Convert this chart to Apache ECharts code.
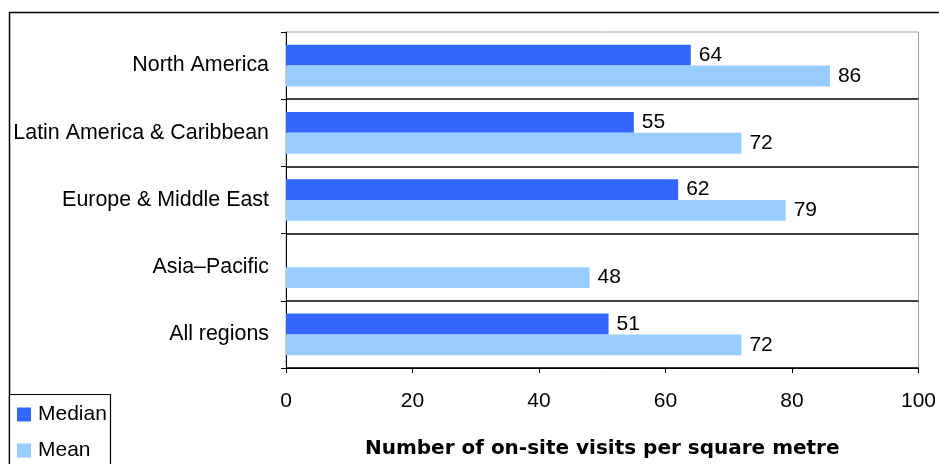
<!DOCTYPE html>
<html><head><meta charset="utf-8">
<script src="https://cdn.jsdelivr.net/npm/echarts@6/dist/echarts.min.js"></script>
<style>html,body{margin:0;padding:0;background:#fff}#c{width:939px;height:464px}</style>
</head><body><div id="c"></div>
<script>
const categories = ["North America", "Latin America & Caribbean", "Europe & Middle East", "Asia–Pacific", "All regions"];
const medianValues = [64, 55, 62, null, 51];
const meanValues = [86, 72, 79, 48, 72];
const xTicks = [0, 20, 40, 60, 80, 100];
const FONT = "'Liberation Sans', Arial, sans-serif";
const chart = echarts.init(document.getElementById('c'), null, {renderer: 'canvas'});
const lbl = {show: true, position: 'right', distance: 8, color: '#000', fontSize: 21, fontFamily: FONT};
chart.setOption({
  animation: false,
  backgroundColor: '#fff',
  grid: {left: 286, right: 17, top: 32, bottom: 94, show: true, borderColor: '#a0a0a0', borderWidth: 1},
  legend: {
    orient: 'vertical', left: 17, top: 404, padding: 0, itemWidth: 14, itemHeight: 14, itemGap: 15,
    icon: 'rect', textStyle: {fontSize: 21, fontFamily: FONT, color: '#000', padding: [0, 0, 0, 2]},
    data: ['Median', 'Mean']
  },
  xAxis: {
    type: 'value', min: xTicks[0], max: xTicks[xTicks.length - 1], interval: 20,
    axisLine: {show: true, lineStyle: {color: '#000'}},
    axisTick: {show: true, inside: false, length: 5, lineStyle: {color: '#000'}},
    axisLabel: {color: '#000', fontSize: 21, fontFamily: FONT, margin: 23},
    splitLine: {show: false},
    name: 'Number of on-site visits per square metre', nameLocation: 'middle', nameGap: 71,
    nameTextStyle: {color: '#000', fontSize: 20, fontWeight: 'bold', fontFamily: "'DejaVu Sans', sans-serif"}
  },
  yAxis: {
    type: 'category', data: categories, inverse: true,
    axisLine: {show: true, lineStyle: {color: '#000'}},
    axisTick: {show: true, inside: false, length: 5, lineStyle: {color: '#000'}},
    axisLabel: {color: '#000', fontSize: 21.4, fontFamily: FONT, margin: 17},
    splitLine: {show: true, lineStyle: {color: '#000', width: 1.5}, interval: function (i) { return i !== 0; }}
  },
  series: [
    {name: 'Median', type: 'bar', data: medianValues, barGap: '0%', barCategoryGap: '38%',
     itemStyle: {color: '#3366FF'}, label: lbl},
    {name: 'Mean', type: 'bar', data: meanValues, barGap: '0%', barCategoryGap: '38%',
     itemStyle: {color: '#99CCFF'}, label: lbl}
  ],
  graphic: [
    {type: 'rect', shape: {x: 9.5, y: 12.5, width: 960, height: 480}, style: {fill: null, stroke: '#000', lineWidth: 1.5}, silent: true, z: -1},
    {type: 'rect', shape: {x: 9.5, y: 394.5, width: 101, height: 100}, style: {fill: '#fff', stroke: '#000', lineWidth: 1.2}, silent: true, z: 0}
  ]
});
</script></body></html>
